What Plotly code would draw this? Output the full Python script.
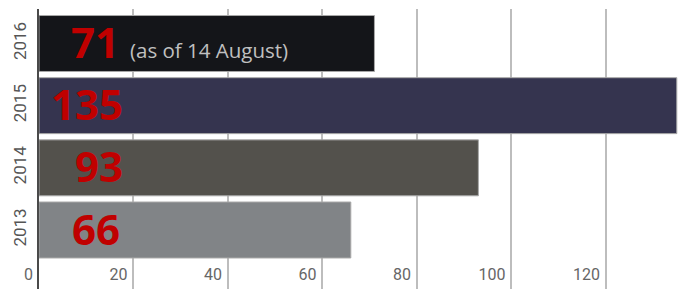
import plotly.graph_objects as go

years = ["2013", "2014", "2015", "2016"]
values = [66, 93, 135, 71]
bar_colors = ["#818487", "#53514c", "#35344f", "#141519"]
label_x = [6.6, 7.2, 2.2, 6.4]
note_text = "(as of 14 August)"
x_ticks = [0, 20, 40, 60, 80, 100, 120]

fig = go.Figure()
fig.add_trace(go.Bar(
    x=values, y=years, orientation="h",
    marker=dict(color=bar_colors, line=dict(color="#a8a8a8", width=1)),
    hoverinfo="skip",
))

for i, (yr, v, lx) in enumerate(zip(years, values, label_x)):
    txt = f"<b>{v}</b> "
    if yr == "2016":
        txt += f"<span style='font-size:20.5px;color:#c0c0c0'>{note_text}</span>"
    fig.add_annotation(
        x=lx, y=i, xref="x", yref="y", text=txt, showarrow=False,
        xanchor="left", yanchor="middle", yshift=2,
        font=dict(family="Open Sans", size=42, color="#c00000"),
    )

fig.update_layout(
    width=682, height=289,
    margin=dict(l=39, r=0, t=9, b=0, autoexpand=False),
    paper_bgcolor="white", plot_bgcolor="white",
    bargap=0.1, showlegend=False,
    xaxis=dict(
        range=[0, 136.1], tickvals=x_ticks, ticktext=[str(t) for t in x_ticks],
        showgrid=True, gridcolor="#bdbdbd", gridwidth=1.5,
        zeroline=False, showline=False, automargin=False,
        ticklabelposition="inside left", ticklabeloverflow="allow",
        ticklabelshift=-6,
        tickfont=dict(family="Roboto", size=16, color="#666666"),
        fixedrange=True,
    ),
    yaxis=dict(
        type="category", categoryorder="array", categoryarray=years,
        range=[-0.949, 3.555], automargin=False,
        showgrid=False, zeroline=False,
        showline=True, linecolor="#4a4a4a", linewidth=2,
        tickangle=-90, ticks="", ticklabelstandoff=4,
        tickfont=dict(family="Roboto", size=17, color="#555555"),
        fixedrange=True,
    ),
)

fig.write_html("out.html", config={"displayModeBar": False},
               post_script="document.body.style.margin='0';")
